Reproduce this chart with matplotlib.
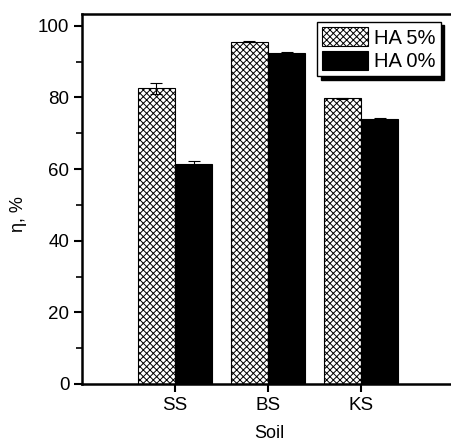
import matplotlib
matplotlib.use("Agg")
import matplotlib.pyplot as plt
import numpy as np

plt.rcParams['font.family'] = ['Liberation Sans', 'DejaVu Sans']
plt.rcParams['hatch.linewidth'] = 0.7

categories = ["SS", "BS", "KS"]
ha5 = [82.6, 95.6, 79.8]
ha5_err = [1.5, 0.1, 0.1]
ha0 = [61.5, 92.5, 73.9]
ha0_err = [0.7, 0.1, 0.4]

fig = plt.figure(figsize=(4.52, 4.46), dpi=100)
ax = fig.add_axes([82/452, 1-384/446, (456-82)/452, (384-14)/446])

x = np.arange(1, len(categories) + 1)
w = 0.4
ax.bar(x - w/2, ha5, w, yerr=ha5_err, color='white', edgecolor='black', hatch='xxxxx',
       linewidth=0.8, capsize=4, error_kw=dict(elinewidth=0.8, capthick=0.8), label='HA 5%')
ax.bar(x + w/2, ha0, w, yerr=ha0_err, color='black', edgecolor='black',
       linewidth=0.8, capsize=4, error_kw=dict(elinewidth=0.8, capthick=0.8, ecolor='black'), label='HA 0%')

ax.set_xlim(0, 4.02)
ax.set_ylim(0, 103.3)
ax.set_xticks(x)
ax.set_xticklabels(categories)
ax.set_yticks([0, 20, 40, 60, 80, 100])
ax.set_yticks([10, 30, 50, 70, 90], minor=True)
ax.tick_params(axis='both', which='major', direction='out', length=6, width=1.5, labelsize=13.5, pad=3)
ax.tick_params(axis='y', which='minor', direction='out', length=4, width=1.2)
for s in ['left', 'top', 'bottom', 'right']:
    ax.spines[s].set_linewidth(1.8)

ax.set_xlabel('Soil', fontsize=13, labelpad=8)
ax.set_ylabel('η, %', fontsize=13, labelpad=8)
ax.yaxis.label.set_y(0.46)

leg = ax.legend(loc='upper right', bbox_to_anchor=((441-82)/374, (384-22)/370), fontsize=14.5,
                shadow={'color': 'black', 'alpha': 1, 'ox': 2.5, 'oy': -2.5},
                fancybox=False, edgecolor='black', framealpha=1, handlelength=2.3, handleheight=1.1,
                borderpad=0.25, labelspacing=0.15, handletextpad=0.3, borderaxespad=0)
leg.get_frame().set_linewidth(1.0)

fig.savefig('out.png', dpi=100)
